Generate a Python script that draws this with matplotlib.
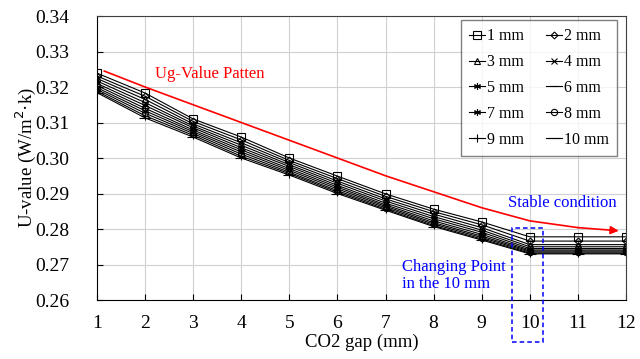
import numpy as np
import matplotlib.pyplot as plt

plt.rcParams['font.family'] = ['Liberation Serif', 'DejaVu Serif']

gap = [1, 2, 3, 4, 5, 6, 7, 8, 9, 10, 11, 12]

u_1mm = [0.3239, 0.3183, 0.3110, 0.3059, 0.3000, 0.2949, 0.2899, 0.2856, 0.2820, 0.2778, 0.2778, 0.2778]
u_2mm = [0.3231, 0.3174, 0.3103, 0.3051, 0.2993, 0.2942, 0.2892, 0.2849, 0.2812, 0.2766, 0.2766, 0.2766]
u_3mm = [0.3224, 0.3165, 0.3096, 0.3043, 0.2987, 0.2935, 0.2885, 0.2842, 0.2804, 0.2756, 0.2756, 0.2756]
u_4mm = [0.3217, 0.3156, 0.3090, 0.3036, 0.2981, 0.2929, 0.2879, 0.2835, 0.2797, 0.2750, 0.2750, 0.2750]
u_5mm = [0.3210, 0.3148, 0.3085, 0.3029, 0.2976, 0.2923, 0.2873, 0.2829, 0.2791, 0.2745, 0.2745, 0.2745]
u_6mm = [0.3204, 0.3140, 0.3079, 0.3023, 0.2970, 0.2918, 0.2868, 0.2823, 0.2785, 0.2741, 0.2741, 0.2741]
u_7mm = [0.3198, 0.3133, 0.3074, 0.3017, 0.2965, 0.2913, 0.2864, 0.2818, 0.2780, 0.2738, 0.2738, 0.2738]
u_8mm = [0.3193, 0.3126, 0.3069, 0.3011, 0.2960, 0.2908, 0.2860, 0.2814, 0.2776, 0.2735, 0.2735, 0.2735]
u_9mm = [0.3188, 0.3119, 0.3064, 0.3005, 0.2956, 0.2904, 0.2856, 0.2810, 0.2772, 0.2732, 0.2732, 0.2732]
u_10mm = [0.3184, 0.3113, 0.3059, 0.3000, 0.2952, 0.2900, 0.2853, 0.2807, 0.2769, 0.2730, 0.2730, 0.2730]

series = [u_1mm, u_2mm, u_3mm, u_4mm, u_5mm, u_6mm, u_7mm, u_8mm, u_9mm, u_10mm]
labels = ['1 mm', '2 mm', '3 mm', '4 mm', '5 mm', '6 mm', '7 mm', '8 mm', '9 mm', '10 mm']
markers = ['s', 'D', '^', 'x', (6, 2, 0), '_', (6, 2, 0), 'o', '+', '_']
msizes = [6, 3.5, 5, 5, 5, 6, 5, 4.5, 6, 8]

# red trend curve (Ug-Value Patten)
trend_x = [1.15, 2, 3, 4, 5, 6, 7, 8, 9, 10, 11, 11.85]
trend_y = [0.3245, 0.3200, 0.3150, 0.3100, 0.3050, 0.3000, 0.2950, 0.2905, 0.2860, 0.2823, 0.2804, 0.2795]

fig = plt.figure(figsize=(6.4, 3.59), dpi=100)
ax = fig.add_axes([0.1516, 0.1643, 0.8264, 0.7911])

handles = []
for y, lab, m, ms in zip(series, labels, markers, msizes):
    h, = ax.plot(gap, y, color='black', lw=0.8, marker=m, ms=ms, mfc='none',
                 mec='black', mew=0.8, label=lab)
    handles.append(h)

ax.plot(trend_x[:-1], trend_y[:-1], color='red', lw=1.2)
ax.annotate('', xy=(trend_x[-1], trend_y[-1]), xytext=(trend_x[-2], trend_y[-2]),
            arrowprops=dict(arrowstyle='-|>', color='red', lw=1.2,
                            mutation_scale=12, shrinkA=0, shrinkB=0))

ax.text(2.2, 0.3237, 'Ug-Value Patten', color='red', fontsize=12, va='center')
ax.text(9.54, 0.2873, 'Stable condition', color='blue', fontsize=12, va='center')
ax.text(7.34, 0.2670, 'Changing Point\nin the 10 mm', color='blue', fontsize=12,
        va='center', linespacing=1.1)

rect = plt.Rectangle((9.63, 0.2482), 0.64, 0.2803 - 0.2482, fill=False,
                     ec='blue', ls=(0, (3, 2)), lw=1.1, clip_on=False, zorder=5)
ax.add_patch(rect)

ax.set_xlim(1, 12)
ax.set_ylim(0.26, 0.34)
ax.set_xticks(gap)
ax.set_yticks(np.arange(0.26, 0.3401, 0.01))
ax.yaxis.set_major_formatter(plt.FormatStrFormatter('%.2f'))
ax.tick_params(direction='in', labelsize=14, length=4)
ax.tick_params(axis='x', pad=11)
ax.tick_params(axis='y', pad=20)
ax.grid(True, color='#d0d0d0', lw=0.8)
ax.set_axisbelow(True)
for s in ax.spines.values():
    s.set_color('#404040')
ax.spines['left'].set_color('black')
ax.spines['bottom'].set_color('black')

ax.set_xlabel('CO2 gap (mm)', fontsize=13.5, labelpad=1)
ax.set_ylabel('U-value (W/m$^2$·k)', fontsize=13.5, labelpad=-2)

# row-wise legend order: 1,2 / 3,4 / ...
order = [0, 2, 4, 6, 8, 1, 3, 5, 7, 9]
leg = ax.legend([handles[i] for i in order], [labels[i] for i in order],
                ncol=2, loc='upper right', fontsize=11.5, frameon=True, fancybox=False,
                edgecolor='#606060', handlelength=1.0, handletextpad=0.1,
                columnspacing=1.4, labelspacing=0.62, borderpad=0.5,
                borderaxespad=0, bbox_to_anchor=(0.983, 0.985))
leg.get_frame().set_linewidth(1.0)

fig.savefig('out.png', dpi=100)
